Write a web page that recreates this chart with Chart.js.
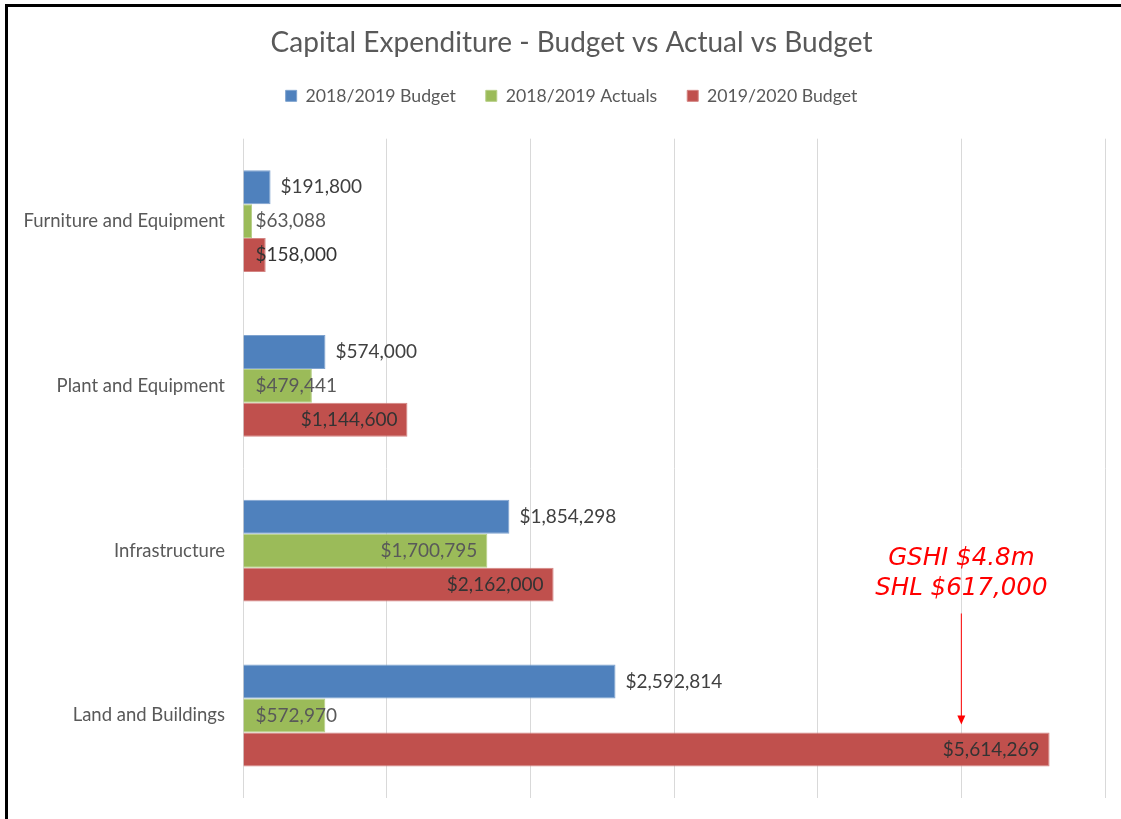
<!DOCTYPE html>
<html>
<head>
<meta charset="utf-8">
<script src="https://cdn.jsdelivr.net/npm/chart.js@4/dist/chart.umd.min.js"></script>
<style>
  html, body { margin: 0; padding: 0; background: #fff; }
  #wrap { position: relative; width: 1121px; height: 819px; }
  #frame { position: absolute; left: 5px; top: 4px; right: -10px; bottom: -10px;
           border-left: 3px solid #000; border-top: 3px solid #000; pointer-events: none; }
</style>
</head>
<body>
<div id="wrap">
  <canvas id="chart" width="1121" height="819"></canvas>
  <div id="frame"></div>
</div>
<script>
// 資料
var categories = ['Furniture and Equipment', 'Plant and Equipment', 'Infrastructure', 'Land and Buildings'];
var seriesNames = ['2018/2019 Budget', '2018/2019 Actuals', '2019/2020 Budget'];
var budget1819 = [191800, 574000, 1854298, 2592814];
var actuals1819 = [63088, 479441, 1700795, 572970];
var budget1920 = [158000, 1144600, 2162000, 5614269];
var xTicks = [0, 1000000, 2000000, 3000000, 4000000, 5000000, 6000000];
var noteLines = ['GSHI $4.8m', 'SHL $617,000'];
var noteValue = 5000000;
var noteCategory = 'Land and Buildings';

var FONT = 'Lato, "Open Sans", sans-serif';

function money(v) { return '$' + v.toLocaleString('en-US'); }

// 圖例下方留白，標題與圖例略向右移
var headerShift = {
  id: 'headerShift',
  beforeInit: function(chart) {
    var origFit = chart.legend.fit;
    chart.legend.fit = function() { origFit.call(this); this.height += 24; };
  },
  afterLayout: function(chart) {
    [chart.titleBlock, chart.legend].forEach(function(b) {
      if (b) { b.left += 14; b.right += 14; }
    });
  }
};

// 資料標籤：藍色在外側，綠紅在內側末端
var labelPlugin = {
  id: 'barLabels',
  afterDatasetsDraw: function(chart) {
    var ctx = chart.ctx;
    ctx.save();
    ctx.font = '19px ' + FONT;
    ctx.textBaseline = 'middle';
    chart.data.datasets.forEach(function(ds, di) {
      var meta = chart.getDatasetMeta(di);
      meta.data.forEach(function(bar, i) {
        var txt = money(ds.data[i]);
        var w = ctx.measureText(txt).width;
        if (di === 0) {
          ctx.fillStyle = '#404040';
          ctx.textAlign = 'left';
          ctx.fillText(txt, bar.x + 10, bar.y);
        } else {
          ctx.fillStyle = di === 1 ? '#595959' : '#333333';
          if (w + 22 > bar.x - bar.base) {
            ctx.textAlign = 'left';
            ctx.fillText(txt, bar.base + 12, bar.y);
          } else {
            ctx.textAlign = 'right';
            ctx.fillText(txt, bar.x - 10, bar.y);
          }
        }
      });
    });
    ctx.restore();
  }
};

// 紅色手寫註記與箭頭
var notePlugin = {
  id: 'note',
  afterDraw: function(chart) {
    var ctx = chart.ctx;
    var xs = chart.scales.x;
    var idx = categories.indexOf(noteCategory);
    var bar = chart.getDatasetMeta(2).data[idx];
    var top = bar.y - bar.height / 2;
    var x = xs.getPixelForValue(noteValue);
    ctx.save();
    ctx.fillStyle = '#ff0000';
    ctx.strokeStyle = '#ff0000';
    ctx.font = 'italic 24.5px "DejaVu Sans", sans-serif';
    ctx.textAlign = 'center';
    ctx.textBaseline = 'middle';
    ctx.fillText(noteLines[0], x, top - 174);
    ctx.fillText(noteLines[1], x, top - 144);
    ctx.lineWidth = 1;
    ctx.beginPath();
    ctx.moveTo(x, top - 119);
    ctx.lineTo(x, top - 16);
    ctx.stroke();
    ctx.beginPath();
    ctx.moveTo(x - 4, top - 17);
    ctx.lineTo(x + 4, top - 17);
    ctx.lineTo(x, top - 8);
    ctx.closePath();
    ctx.fill();
    ctx.restore();
  }
};

var ctx = document.getElementById('chart').getContext('2d');
new Chart(ctx, {
  type: 'bar',
  data: {
    labels: categories,
    datasets: [
      { label: seriesNames[0], data: budget1819, backgroundColor: '#4F81BD', borderColor: '#7FA3CF', borderWidth: 1 },
      { label: seriesNames[1], data: actuals1819, backgroundColor: '#9BBB59', borderColor: '#B7CF87', borderWidth: 1 },
      { label: seriesNames[2], data: budget1920, backgroundColor: '#C0504D', borderColor: '#D48583', borderWidth: 1 }
    ]
  },
  options: {
    indexAxis: 'y',
    responsive: false,
    animation: false,
    datasets: { bar: { categoryPercentage: 0.618, barPercentage: 1 } },
    layout: { padding: { left: 10, right: 16, top: 0, bottom: 15 } },
    plugins: {
      title: {
        display: true,
        text: 'Capital Expenditure - Budget vs Actual vs Budget',
        color: '#595959',
        font: { family: FONT, size: 28, weight: 'normal', lineHeight: 1 },
        padding: { top: 29, bottom: 0 }
      },
      legend: {
        position: 'top',
        labels: {
          color: '#595959',
          font: { family: FONT, size: 17.7 },
          boxWidth: 11,
          boxHeight: 11,
          padding: 30
        }
      },
      tooltip: { enabled: false }
    },
    scales: {
      x: {
        min: 0,
        max: 6000000,
        afterBuildTicks: function(scale) {
          scale.ticks = xTicks.map(function(v) { return { value: v }; });
        },
        ticks: { display: false },
        grid: { color: '#d9d9d9', lineWidth: 1, drawTicks: false },
        border: { display: false }
      },
      y: {
        grid: { display: false },
        border: { display: false },
        ticks: { color: '#595959', font: { family: FONT, size: 18.5 }, padding: 10 },
        afterFit: function(scale) { scale.width = 233; }
      }
    }
  },
  plugins: [headerShift, labelPlugin, notePlugin]
});
</script>
</body>
</html>
